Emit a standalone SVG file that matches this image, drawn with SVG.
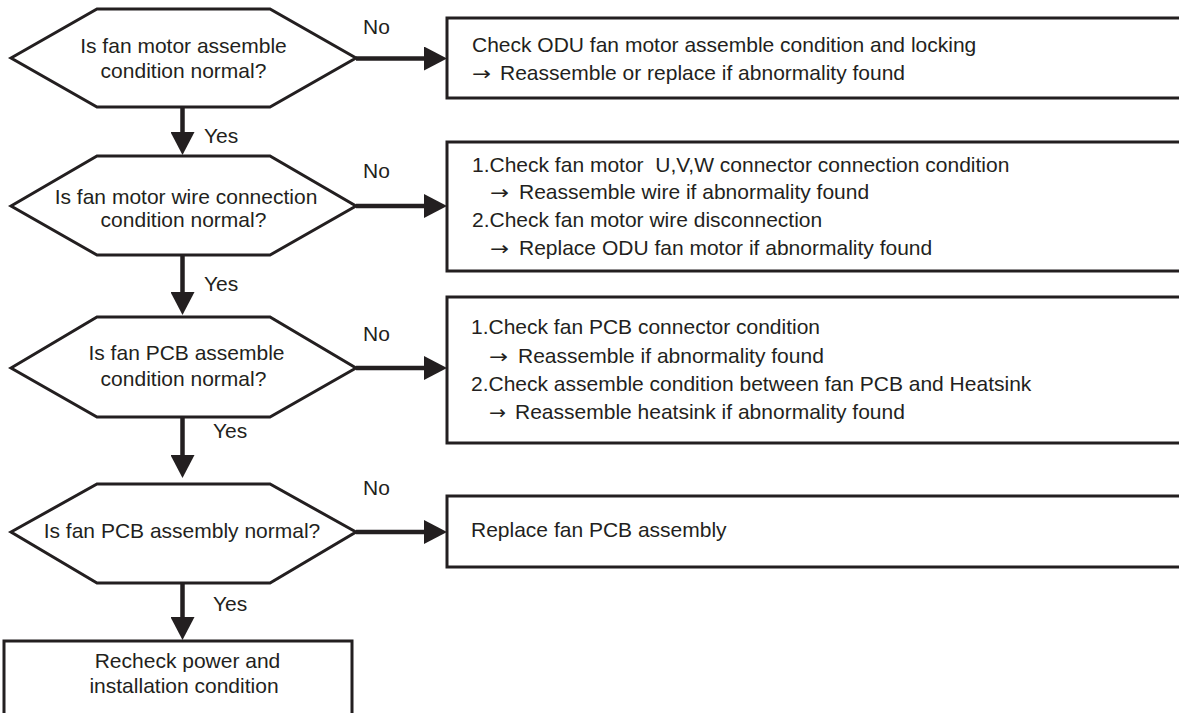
<svg xmlns="http://www.w3.org/2000/svg" width="1179" height="713" viewBox="0 0 1179 713">
<style>
.t{font-family:"Liberation Sans",Arial,Helvetica,sans-serif;font-size:21px;fill:#231f20}
.ar{font-family:"DejaVu Sans","Liberation Sans",sans-serif;font-size:19px;fill:#231f20}
.m{text-anchor:middle}
.shape{fill:#fff;stroke:#231f20;stroke-width:3}
.conn{stroke:#231f20;stroke-width:4.5;fill:none}
</style>
<defs>
<marker id="ah" markerUnits="userSpaceOnUse" markerWidth="23" markerHeight="24" refX="0" refY="12" orient="auto" viewBox="0 0 23 24">
<path d="M0,0 L23,12 L0,24 Z" fill="#231f20"/>
</marker>
</defs>
<rect width="1179" height="713" fill="#fff"/>

<g id="q1">
<polygon class="shape" points="11,58 97,9 270,9 356,58 270,107 97,107"/>
<text class="t m" x="183.5" y="52.5">Is fan motor assemble</text>
<text class="t m" x="183.5" y="78">condition normal?</text>
</g>
<g id="a1">
<rect class="shape" x="447" y="18" width="745" height="80"/>
<text class="t" x="472" y="52">Check ODU fan motor assemble condition and locking</text>
<text class="ar" x="472" y="80" textLength="19" lengthAdjust="spacingAndGlyphs">→</text>
<text class="t" x="500" y="80">Reassemble or replace if abnormality found</text>
</g>

<g id="q2">
<polygon class="shape" points="11,206 97,156 270,156 356,206 270,255 97,255"/>
<text class="t m" x="186" y="203.5">Is fan motor wire connection</text>
<text class="t m" x="183.5" y="227">condition normal?</text>
</g>
<g id="a2">
<rect class="shape" x="447" y="142" width="745" height="129"/>
<text class="t" x="472" y="172" xml:space="preserve">1.Check fan motor  U,V,W connector connection condition</text>
<text class="ar" x="490" y="199" textLength="19" lengthAdjust="spacingAndGlyphs">→</text>
<text class="t" x="519" y="199">Reassemble wire if abnormality found</text>
<text class="t" x="472" y="227">2.Check fan motor wire disconnection</text>
<text class="ar" x="490" y="255" textLength="19" lengthAdjust="spacingAndGlyphs">→</text>
<text class="t" x="519" y="255">Replace ODU fan motor if abnormality found</text>
</g>

<g id="q3">
<polygon class="shape" points="11,368 97,317 270,317 356,368 270,417 97,417"/>
<text class="t m" x="186.5" y="360">Is fan PCB assemble</text>
<text class="t m" x="183.5" y="386">condition normal?</text>
</g>
<g id="a3">
<rect class="shape" x="447" y="297" width="745" height="146"/>
<text class="t" x="471" y="334">1.Check fan PCB connector condition</text>
<text class="ar" x="489" y="363" textLength="19" lengthAdjust="spacingAndGlyphs">→</text>
<text class="t" x="518" y="363">Reassemble if abnormality found</text>
<text class="t" x="471" y="391">2.Check assemble condition between fan PCB and Heatsink</text>
<text class="ar" x="489" y="419" textLength="17" lengthAdjust="spacingAndGlyphs">→</text>
<text class="t" x="515" y="419">Reassemble heatsink if abnormality found</text>
</g>

<g id="q4">
<polygon class="shape" points="11,532 97,484 270,484 356,532 270,583 97,583"/>
<text class="t m" x="182" y="538">Is fan PCB assembly normal?</text>
</g>
<g id="a4">
<rect class="shape" x="447" y="496" width="745" height="71"/>
<text class="t" x="471" y="537">Replace fan PCB assembly</text>
</g>

<g id="end">
<rect class="shape" x="4" y="641" width="348" height="100"/>
<text class="t m" x="187.5" y="668">Recheck power and</text>
<text class="t m" x="184" y="693">installation condition</text>
</g>

<g id="connectors">
<line class="conn" x1="356" y1="58.5" x2="424" y2="58.5" marker-end="url(#ah)"/>
<line class="conn" x1="356" y1="206" x2="424" y2="206" marker-end="url(#ah)"/>
<line class="conn" x1="356" y1="368" x2="424" y2="368" marker-end="url(#ah)"/>
<line class="conn" x1="356" y1="532" x2="424" y2="532" marker-end="url(#ah)"/>
<line class="conn" x1="182.5" y1="107" x2="182.5" y2="132" marker-end="url(#ah)"/>
<line class="conn" x1="182.5" y1="255" x2="182.5" y2="292" marker-end="url(#ah)"/>
<line class="conn" x1="182.5" y1="417" x2="182.5" y2="455" marker-end="url(#ah)"/>
<line class="conn" x1="182.5" y1="583" x2="182.5" y2="617" marker-end="url(#ah)"/>
<text class="t" x="363" y="34">No</text>
<text class="t" x="363" y="178">No</text>
<text class="t" x="363" y="341">No</text>
<text class="t" x="363" y="495">No</text>
<text class="t" x="204" y="143">Yes</text>
<text class="t" x="204" y="291">Yes</text>
<text class="t" x="213" y="438">Yes</text>
<text class="t" x="213" y="611">Yes</text>
</g>
</svg>
